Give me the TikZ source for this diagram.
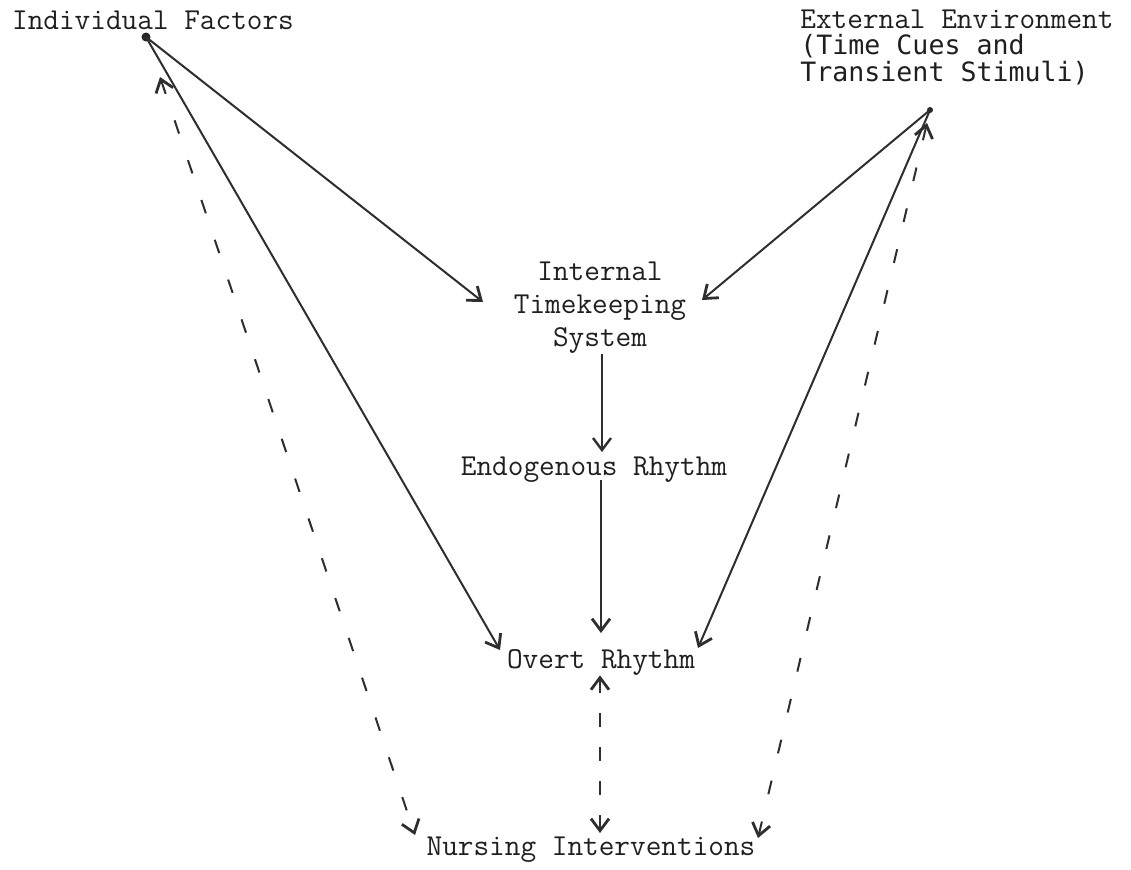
\documentclass[tikz,border=0pt]{standalone}
\usepackage{fontspec}
\newfontfamily\gothicmono{DejaVu Sans Mono}
\usetikzlibrary{arrows.meta}
\begin{document}
\begin{tikzpicture}[x=0.5pt,y=-0.5pt,
  lbl/.style={font=\ttfamily\fontsize{15.2}{16.5}\selectfont, inner sep=0pt, text=black!88},
  gth/.style={font=\gothicmono\fontsize{13.3}{16}\selectfont, inner sep=0pt, text=black!88},
  link/.style={line width=1pt, draw=black!82, -{Straight Barb[length=6pt,width=9pt,line width=1.4pt]}},
  finelink/.style={line width=0.6pt, draw=black!82, -{Straight Barb[length=6pt,width=9pt,line width=1.2pt]}},
  dlink/.style={line width=1pt, draw=black!82, dash pattern=on 7pt off 14pt,
     {Straight Barb[length=6pt,width=9pt,line width=1.4pt]}-{Straight Barb[length=6pt,width=9pt,line width=1.4pt]}}
]
\useasboundingbox[fill=white] (0,0) rectangle (1131,869);

% texts
\node[lbl] (if) at (153,20) {Individual Factors};
\node[lbl, anchor=base west] (ee1) at (800,28) {External Environment};
\node[gth, anchor=base west] (ee2) at (800,54) {(Time Cues and};
\node[gth, anchor=base west] (ee3) at (800,81) {Transient Stimuli)};
\node[lbl, align=center] (its) at (600,308) {Internal\\Timekeeping\\System};
\node[lbl] (end) at (594,470) {Endogenous Rhythm};
\node[lbl] (ov) at (601,662) {Overt Rhythm};
\node[lbl] (ni) at (591,850) {Nursing Interventions};

% anchor points
\coordinate (ifdot) at (146,37);
\coordinate (eept) at (930,110);
\coordinate (itsL) at (483,302);
\coordinate (itsR) at (702,300);
\coordinate (ovL) at (500,650);
\coordinate (ovR) at (698,648);
\coordinate (ovT) at (601,633);
\coordinate (endB) at (601,480);
\coordinate (endT) at (602,452);
\coordinate (niL) at (415,835);
\coordinate (niC) at (600,833);
\coordinate (niR) at (758,838);
\coordinate (dL) at (160,77);
\coordinate (dR) at (927,123);

\fill[black!85] (ifdot) circle (4.5);
\fill[black!85] (eept) circle (3);

% solid connectors
\draw[link] (ifdot) -- (itsL);
\draw[link] (ifdot) -- (ovL);
\draw[link] (eept) -- (itsR);
\draw[link] (eept) -- (ovR);
\draw[finelink] (its.south -| endT) -- (endT);
\draw[link] (endB) -- (ovT);

% dashed connectors
\draw[dlink] (dL) -- (niL);
\draw[dlink] (dR) -- (niR);
\draw[dlink, dash pattern=on 7pt off 10pt] (ov.south -| niC) -- (niC);
\end{tikzpicture}
\end{document}
